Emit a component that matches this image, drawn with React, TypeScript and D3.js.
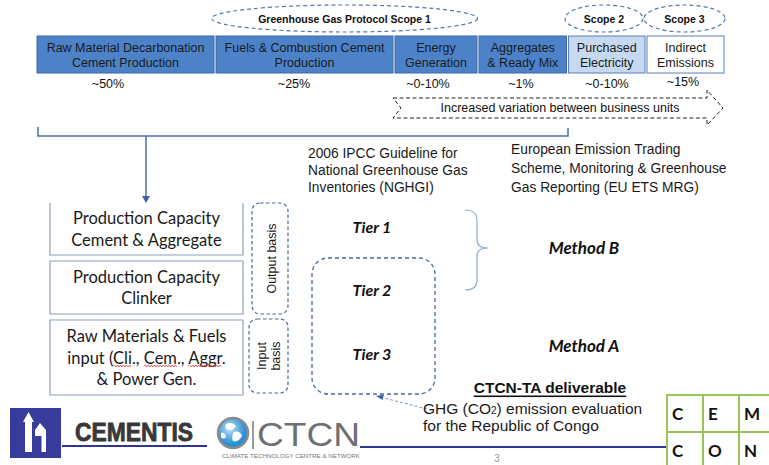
import { useEffect, useRef } from "react";
import * as d3 from "d3";

// emission sources (top row)
const sourceLabels = [
  ["Raw Material Decarbonation", "Cement Production"],
  ["Fuels & Combustion Cement", "Production"],
  ["Energy", "Generation"],
  ["Aggregates", "& Ready Mix"],
  ["Purchased", "Electricity"],
  ["Indirect", "Emissions"],
];
const sourceShares = ["~50%", "~25%", "~0-10%", "~1%", "~0-10%", "~15%"];
const sourceScope = [1, 1, 1, 1, 2, 3];
const scopeLabels = ["Greenhouse Gas Protocol Scope 1", "Scope 2", "Scope 3"];
const variationLabel = "Increased variation between business units";

// activity data boxes
const capacityLabels = [
  ["Production Capacity", "Cement & Aggregate"],
  ["Production Capacity", "Clinker"],
  ["Raw Materials & Fuels", "input (Cli., Cem., Aggr.", "& Power Gen."],
];
const misspelled = ["Cli", "Cem", "Aggr"];
const basisLabels = [["Output basis"], ["Input", "basis"]];

const guidelineLines = ["2006 IPCC Guideline for", "National Greenhouse Gas", "Inventories (NGHGI)"];
const etsLines = ["European Emission Trading", "Scheme, Monitoring & Greenhouse", "Gas Reporting (EU ETS MRG)"];
const tierLabels = ["Tier 1", "Tier 2", "Tier 3"];
const methodLabels = ["Method B", "Method A"];

const deliverableTitle = "CTCN-TA deliverable";
const deliverableLines = ["for the Republic of Congo"];
const gridLetters = [
  ["C", "E", "M"],
  ["C", "O", "N"],
];

const SANS = "'Liberation Sans', Arial, sans-serif";
const CAL = "Lato, 'Open Sans', sans-serif";
const BLUE = "#4D82C9";
const DASH = "#4A6A9C";

const App: React.FC = () => {
  const svgRef = useRef<SVGSVGElement | null>(null);

  useEffect(() => {
    if (!svgRef.current) return;
    const svg = d3.select(svgRef.current);
    svg.selectAll("*").remove();
    svg.append("rect").attr("width", 769).attr("height", 465).attr("fill", "#fff");

    const lines = (
      g: d3.Selection<any, any, any, any>,
      arr: string[],
      x: number,
      y0: number,
      dy: number,
      font: string,
      size: number,
      anchor = "middle"
    ) =>
      arr.map((t, i) =>
        g
          .append("text")
          .attr("x", x)
          .attr("y", y0 + i * dy)
          .attr("text-anchor", anchor)
          .attr("dominant-baseline", "central")
          .attr("font-family", font)
          .attr("font-size", size)
          .attr("fill", "#1a1a1a")
          .text(t)
      );

    // ---- top row of sources
    const edges = [36, 215, 394, 478, 567.5, 646, 725];
    const shareX = [108, 294, 428, 521, 607, 683];
    const top = svg.append("g");
    sourceLabels.forEach((lab, i) => {
      const x0 = edges[i] + 1;
      const x1 = edges[i + 1] - 1;
      const sc = sourceScope[i];
      top
        .append("rect")
        .attr("x", x0)
        .attr("y", 36)
        .attr("width", x1 - x0)
        .attr("height", 37)
        .attr("fill", sc === 1 ? BLUE : sc === 2 ? "#C6D9F1" : "#fff")
        .attr("stroke", sc === 1 ? "#3A68A8" : "#5B7FB5")
        .attr("stroke-width", 1);
      lines(top, lab, (x0 + x1) / 2, 47.5, 15, SANS, 12.5);
      top
        .append("text")
        .attr("x", shareX[i])
        .attr("y", i === 5 ? 82 : 83.5)
        .attr("text-anchor", "middle")
        .attr("dominant-baseline", "central")
        .attr("font-family", SANS)
        .attr("font-size", 12.5)
        .attr("fill", "#111")
        .text(sourceShares[i]);
    });

    // scope ellipses
    const scopes = [
      { cx: 344.5, rx: 133 },
      { cx: 604, rx: 39 },
      { cx: 684.5, rx: 40.5 },
    ];
    scopes.forEach((s, i) => {
      top
        .append("ellipse")
        .attr("cx", s.cx)
        .attr("cy", 18.5)
        .attr("rx", s.rx)
        .attr("ry", 13.5)
        .attr("fill", "none")
        .attr("stroke", "#5577AA")
        .attr("stroke-width", 1.2)
        .attr("stroke-dasharray", "4,3");
      top
        .append("text")
        .attr("x", s.cx)
        .attr("y", 19)
        .attr("text-anchor", "middle")
        .attr("dominant-baseline", "central")
        .attr("font-family", SANS)
        .attr("font-weight", "bold")
        .attr("font-size", 10.5)
        .attr("fill", "#111")
        .text(scopeLabels[i]);
    });

    // variation arrow
    const arrowPts: [number, number][] = [
      [393, 98], [707, 98], [707, 90], [723, 108], [707, 125], [707, 118], [393, 118], [401, 108],
    ];
    top
      .append("path")
      .attr("d", d3.line()(arrowPts) + "Z")
      .attr("fill", "none")
      .attr("stroke", "#222")
      .attr("stroke-width", 1)
      .attr("stroke-dasharray", "4,2.5");
    top
      .append("text")
      .attr("x", 560)
      .attr("y", 108)
      .attr("text-anchor", "middle")
      .attr("dominant-baseline", "central")
      .attr("font-family", SANS)
      .attr("font-size", 12.5)
      .attr("fill", "#111")
      .text(variationLabel);

    // bracket + down arrow
    svg
      .append("path")
      .attr("d", "M38,127V136H568V128M146,136V198")
      .attr("fill", "none")
      .attr("stroke", "#4A6FA5")
      .attr("stroke-width", 1.5);
    svg.append("path").attr("d", "M142,196L150,196L146,203Z").attr("fill", "#3E62A0");

    // ---- capacity boxes
    const boxY: [number, number][] = [
      [203, 255],
      [261, 314],
      [320, 395],
    ];
    const cap = svg.append("g");
    capacityLabels.forEach((lab, i) => {
      const [y0, y1] = boxY[i];
      cap
        .append("path")
        .attr("d", i === 0 ? `M50,${y0}V${y1}H243V${y0}` : `M50,${y0}H243V${y1}H50Z`)
        .attr("fill", "none")
        .attr("stroke", "#8E9FB8")
        .attr("stroke-width", 1.2);
      const n = lab.length;
      const mid = (y0 + y1) / 2;
      const ts = lines(cap, lab, 146.5, mid - ((n - 1) * 21.5) / 2, 21.5, CAL, 16.5);
      if (i === 2) {
        const node = ts[1].node() as SVGTextElement;
        const txt = lab[1];
        misspelled.forEach((w) => {
          const s = txt.indexOf(w);
          const a = node.getStartPositionOfChar(s).x;
          const b = node.getEndPositionOfChar(s + w.length - 1).x;
          const yy = mid + 8.5;
          let d = `M${a},${yy}`;
          for (let x = a + 1.5, k = 0; x <= b; x += 1.5, k++) d += `L${x},${yy + (k % 2 ? 1 : -1)}`;
          cap.append("path").attr("d", d).attr("fill", "none").attr("stroke", "#E03A3A").attr("stroke-width", 0.8);
        });
      }
    });

    // basis boxes
    const basisBox = [
      { x: 252, y: 203, w: 36, h: 111 },
      { x: 249, y: 319, w: 39, h: 74 },
    ];
    basisBox.forEach((b, i) => {
      cap
        .append("rect")
        .attr("x", b.x)
        .attr("y", b.y)
        .attr("width", b.w)
        .attr("height", b.h)
        .attr("rx", 8)
        .attr("fill", "none")
        .attr("stroke", DASH)
        .attr("stroke-width", 1.2)
        .attr("stroke-dasharray", "3.5,2.5");
      const cx = b.x + b.w / 2;
      const cy = b.y + b.h / 2;
      const labs = basisLabels[i];
      const g = cap.append("g").attr("transform", `translate(${cx + (labs.length > 1 ? 0 : 2)},${cy}) rotate(-90)`);
      lines(g, labs, 0, -((labs.length - 1) * 14) / 2, 14, SANS, 12.5);
    });

    // ---- methodology texts
    lines(svg, guidelineLines, 308, 153, 17, SANS, 13.8, "start");
    lines(svg, etsLines, 511, 149, 19, SANS, 13.8, "start");

    const tierY = d3.scalePoint<string>().domain(tierLabels).range([226, 353]);
    svg
      .append("rect")
      .attr("x", 312)
      .attr("y", 258)
      .attr("width", 123)
      .attr("height", 136)
      .attr("rx", 16)
      .attr("fill", "none")
      .attr("stroke", DASH)
      .attr("stroke-width", 1.3)
      .attr("stroke-dasharray", "4,3");
    tierLabels.forEach((t) => {
      svg
        .append("text")
        .attr("x", 372)
        .attr("y", tierY(t)!)
        .attr("text-anchor", "middle")
        .attr("dominant-baseline", "central")
        .attr("font-family", CAL)
        .attr("font-weight", "bold")
        .attr("font-style", "italic")
        .attr("font-size", 16)
        .attr("fill", "#111")
        .text(t);
    });
    svg
      .append("path")
      .attr("d", "M465,210Q477,210 477,220V240Q477,248 488,248Q477,248 477,256V280Q477,290 465,290")
      .attr("fill", "none")
      .attr("stroke", "#8FAAD2")
      .attr("stroke-width", 1.2);

    const methodY = [247, 345];
    methodLabels.forEach((m, i) => {
      svg
        .append("text")
        .attr("x", 584)
        .attr("y", methodY[i])
        .attr("text-anchor", "middle")
        .attr("dominant-baseline", "central")
        .attr("font-family", CAL)
        .attr("font-weight", "bold")
        .attr("font-style", "italic")
        .attr("font-size", 17)
        .attr("fill", "#111")
        .text(m);
    });

    // deliverable
    svg
      .append("path")
      .attr("d", "M427,409L382,397.5")
      .attr("stroke", "#7C98C2")
      .attr("stroke-width", 1)
      .attr("stroke-dasharray", "3,2");
    svg.append("path").attr("d", "M376,396L384,394.5L382.5,400Z").attr("fill", "#3E66A6");
    svg
      .append("text")
      .attr("x", 550)
      .attr("y", 387)
      .attr("text-anchor", "middle")
      .attr("dominant-baseline", "central")
      .attr("font-family", SANS)
      .attr("font-weight", "bold")
      .attr("font-size", 15.5)
      .attr("text-decoration", "underline")
      .attr("fill", "#111")
      .text(deliverableTitle);
    const ghg = svg
      .append("text")
      .attr("x", 423)
      .attr("y", 408)
      .attr("dominant-baseline", "central")
      .attr("font-family", SANS)
      .attr("font-size", 15.5)
      .attr("fill", "#1a1a1a");
    ghg.append("tspan").text("GHG (CO");
    ghg.append("tspan").attr("font-size", 10).attr("dy", 2).text("2");
    ghg.append("tspan").attr("dy", -2).text(") emission evaluation");
    lines(svg, deliverableLines, 423, 425.5, 17, SANS, 15.5, "start");

    // ---- footer
    svg
      .append("path")
      .attr("d", "M62,446H207M360,447H667")
      .attr("stroke", "#2E3592")
      .attr("stroke-width", 2);
    svg.append("rect").attr("x", 10).attr("y", 408).attr("width", 51).attr("height", 50).attr("fill", "#363B9C");
    svg.append("path").attr("d", "M28.5,412L34,422H32V452H25V422H23Z").attr("fill", "#fff");
    svg.append("path").attr("d", "M35,430L40,423L46,430V452H41.5V436H35Z").attr("fill", "#fff");
    svg
      .append("text")
      .attr("x", 75)
      .attr("y", 432)
      .attr("dominant-baseline", "central")
      .attr("font-family", SANS)
      .attr("font-weight", "bold")
      .attr("font-size", 25)
      .attr("textLength", 118)
      .attr("lengthAdjust", "spacingAndGlyphs")
      .attr("fill", "#383838")
      .attr("stroke", "#383838")
      .attr("stroke-width", 0.8)
      .text("CEMENTIS");

    const globe = svg.append("g");
    const grad = svg.append("defs").append("radialGradient").attr("id", "gl").attr("cx", "40%").attr("cy", "35%");
    grad.append("stop").attr("offset", "0%").attr("stop-color", "#BFE4F8");
    grad.append("stop").attr("offset", "100%").attr("stop-color", "#2A8FD4");
    globe.append("circle").attr("cx", 233).attr("cy", 433).attr("r", 15).attr("fill", "url(#gl)").attr("stroke", "#8A8A8A").attr("stroke-width", 2.5);
    globe.append("path").attr("d", "M226,424Q232,421 236,426Q233,431 228,430Q224,428 226,424Z").attr("fill", "#fff");
    globe.append("path").attr("d", "M234,432Q240,430 242,436Q238,443 233,441Q231,436 234,432Z").attr("fill", "#fff");
    globe.append("path").attr("d", "M221,433Q225,432 226,437Q223,440 221,437Z").attr("fill", "#fff");
    svg.append("path").attr("d", "M253,421V449").attr("stroke", "#7A7A7A").attr("stroke-width", 1.5);
    svg
      .append("text")
      .attr("x", 257)
      .attr("y", 434)
      .attr("dominant-baseline", "central")
      .attr("font-family", SANS)
      .attr("font-size", 34)
      .attr("textLength", 103)
      .attr("lengthAdjust", "spacingAndGlyphs")
      .attr("fill", "#6E6F72")
      .text("CTCN");
    svg
      .append("text")
      .attr("x", 222)
      .attr("y", 456)
      .attr("dominant-baseline", "central")
      .attr("font-family", SANS)
      .attr("font-size", 4.5)
      .attr("textLength", 138)
      .attr("lengthAdjust", "spacingAndGlyphs")
      .attr("fill", "#777")
      .text("CLIMATE TECHNOLOGY CENTRE & NETWORK");

    svg
      .append("text")
      .attr("x", 497)
      .attr("y", 458)
      .attr("text-anchor", "middle")
      .attr("dominant-baseline", "central")
      .attr("font-family", SANS)
      .attr("font-size", 10)
      .attr("fill", "#999")
      .text("3");

    // CEM CON grid
    const gx = d3.scaleBand<number>().domain([0, 1, 2]).range([667, 775]);
    const gy = d3.scaleBand<number>().domain([0, 1]).range([395, 469]);
    gridLetters.forEach((row, r) =>
      row.forEach((ch, c) => {
        svg
          .append("rect")
          .attr("x", gx(c)!)
          .attr("y", gy(r)!)
          .attr("width", gx.bandwidth())
          .attr("height", gy.bandwidth())
          .attr("fill", "#fff")
          .attr("stroke", "#9BC25A")
          .attr("stroke-width", 2);
        svg
          .append("text")
          .attr("x", gx(c)! + 5)
          .attr("y", gy(r)! + gy.bandwidth() / 2)
          .attr("dominant-baseline", "central")
          .attr("font-family", CAL)
          .attr("font-weight", "bold")
          .attr("font-size", 17)
          .attr("fill", "#111")
          .text(ch);
      })
    );
  }, []);

  return (
    <div style={{ position: "absolute", left: 0, top: 0 }}>
      <svg ref={svgRef} width={769} height={465}></svg>
    </div>
  );
};

export default App;
